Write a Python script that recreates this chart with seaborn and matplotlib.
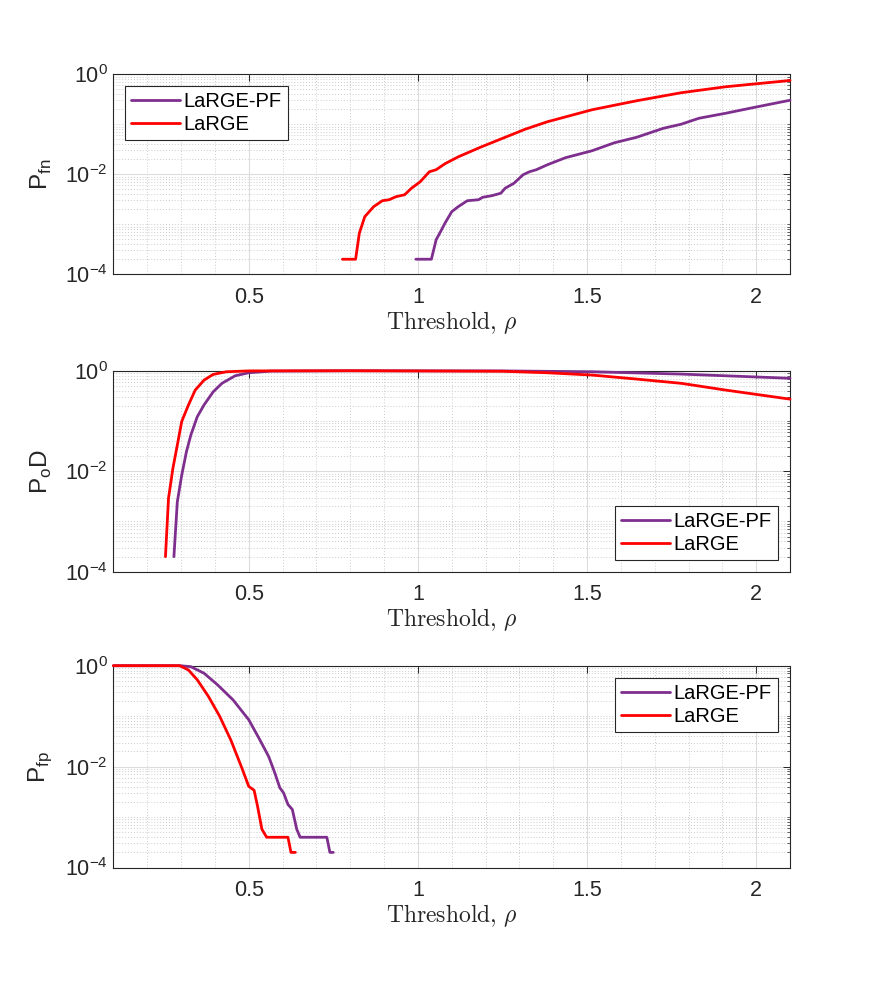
import numpy as np
import pandas as pd
import matplotlib
matplotlib.use("Agg")
import matplotlib.pyplot as plt
import seaborn as sns
from matplotlib.ticker import FixedLocator, NullFormatter, MultipleLocator

# ---------------- data ----------------
fn_large_x = [0.777, 0.816, 0.827, 0.843, 0.869, 0.895, 0.915, 0.935, 0.961, 0.981, 1.007,
              1.034, 1.054, 1.080, 1.12, 1.185, 1.251, 1.317, 1.383, 1.515, 1.647, 1.778,
              1.910, 2.1]
fn_large_log = [-3.7, -3.7, -3.18, -2.85, -2.65, -2.53, -2.51, -2.45, -2.41, -2.28, -2.15,
                -1.95, -1.91, -1.79, -1.65, -1.46, -1.28, -1.10, -0.95, -0.71, -0.53, -0.37,
                -0.25, -0.125]
fn_pf_x = [0.994, 1.040, 1.054, 1.067, 1.080, 1.100, 1.119, 1.146, 1.179, 1.192, 1.218,
           1.245, 1.258, 1.284, 1.311, 1.330, 1.350, 1.383, 1.436, 1.515, 1.581, 1.647,
           1.726, 1.778, 1.831, 1.910, 1.989, 2.1]
fn_pf_log = [-3.7, -3.7, -3.31, -3.15, -2.98, -2.75, -2.65, -2.53, -2.51, -2.46, -2.43,
             -2.38, -2.28, -2.18, -2.01, -1.95, -1.91, -1.81, -1.67, -1.53, -1.37, -1.26,
             -1.08, -1.00, -0.88, -0.78, -0.67, -0.52]

pod_large_x = [0.254, 0.263, 0.276, 0.289, 0.302, 0.322, 0.342, 0.368, 0.395, 0.434, 0.5,
               0.8, 1.25, 1.383, 1.515, 1.647, 1.778, 1.910, 2.1]
pod_large_log = [-3.7, -2.54, -1.94, -1.48, -1.01, -0.68, -0.385, -0.186, -0.073, -0.02, -0.003,
                 0.0, -0.01, -0.04, -0.086, -0.166, -0.25, -0.385, -0.565]
pod_pf_x = [0.279, 0.289, 0.302, 0.316, 0.329, 0.348, 0.368, 0.395, 0.421, 0.460, 0.5,
            0.566, 0.8, 1.25, 1.515, 1.778, 2.1]
pod_pf_log = [-3.7, -2.61, -2.08, -1.61, -1.28, -0.915, -0.68, -0.42, -0.25, -0.10, -0.04,
              -0.007, 0.0, -0.003, -0.02, -0.066, -0.15]

fp_large_x = [0.1, 0.296, 0.322, 0.348, 0.381, 0.414, 0.447, 0.480, 0.5, 0.516, 0.526,
              0.539, 0.553, 0.616, 0.625, 0.638]
fp_large_log = [0.0, 0.0, -0.086, -0.28, -0.61, -1.0, -1.47, -2.03, -2.39, -2.47, -2.78,
                -3.24, -3.4, -3.4, -3.7, -3.7]
fp_pf_x = [0.1, 0.296, 0.329, 0.368, 0.408, 0.454, 0.5, 0.533, 0.559, 0.572, 0.579, 0.592,
           0.603, 0.616, 0.629, 0.642, 0.652, 0.731, 0.740, 0.750]
fp_pf_log = [0.0, 0.0, -0.02, -0.15, -0.38, -0.68, -1.07, -1.47, -1.80, -2.03, -2.16, -2.42,
             -2.52, -2.75, -2.85, -3.24, -3.4, -3.4, -3.7, -3.7]

series_names = ["LaRGE-PF", "LaRGE"]
ylabels = ["P$_{\\mathregular{fn}}$", "P$_{\\mathregular{o}}$D", "P$_{\\mathregular{fp}}$"]
xlabel = r"$\mathrm{Threshold,}\,\rho$"
xticks = [0.5, 1, 1.5, 2]
xticklabels = ["0.5", "1", "1.5", "2"]
yticks = [1e-4, 1e-2, 1e0]
yticklabels = ["10$^{\\mathregular{-4}}$", "10$^{\\mathregular{-2}}$", "10$^{\\mathregular{0}}$"]

panels = [
    (fn_pf_x, fn_pf_log, fn_large_x, fn_large_log, "upper left"),
    (pod_pf_x, pod_pf_log, pod_large_x, pod_large_log, "lower right"),
    (fp_pf_x, fp_pf_log, fp_large_x, fp_large_log, "upper right"),
]

# ---------------- style ----------------
sns.set_theme(style="white")
plt.rcParams["font.family"] = ["Liberation Sans", "DejaVu Sans"]
plt.rcParams["mathtext.fontset"] = "dejavusans"

colors = {"LaRGE-PF": "#7E2F8E", "LaRGE": "#FF0000"}
edge = "#262626"

fig = plt.figure(figsize=(8.72, 9.9), dpi=100)
positions = [
    (0.130, 0.7230, 0.776, 0.2020),
    (0.130, 0.4225, 0.776, 0.2030),
    (0.130, 0.1237, 0.776, 0.2039),
]

for i, (pos, (px, plog, lx, llog, legloc)) in enumerate(zip(positions, panels)):
    ax = fig.add_axes(pos)
    df = pd.concat([
        pd.DataFrame({"x": px, "y": 10 ** np.array(plog), "s": series_names[0]}),
        pd.DataFrame({"x": lx, "y": 10 ** np.array(llog), "s": series_names[1]}),
    ])
    sns.lineplot(data=df, x="x", y="y", hue="s", palette=colors, sort=False,
                 estimator=None, linewidth=2.0, ax=ax, hue_order=series_names)
    for ln in ax.get_lines():
        ln.set_clip_on(False)
        ln.set_zorder(3)
    ax.set_yscale("log")
    ax.set_xlim(0.1, 2.1)
    ax.set_ylim(1e-4, 1)

    ax.xaxis.set_major_locator(FixedLocator(xticks))
    ax.set_xticklabels(xticklabels)
    ax.xaxis.set_minor_locator(MultipleLocator(0.1))
    ax.yaxis.set_major_locator(FixedLocator(yticks))
    ax.set_yticklabels(yticklabels)
    minors = [k * 10.0 ** e for e in range(-4, 0) for k in range(1, 10)
              if not (k == 1 and e in (-4, -2))]
    ax.yaxis.set_minor_locator(FixedLocator(minors))
    ax.yaxis.set_minor_formatter(NullFormatter())

    ax.grid(True, which="major", color="#dcdcdc", linewidth=0.8, linestyle="-")
    ax.grid(True, which="minor", color="#cccccc", linewidth=0.7, linestyle=(0, (1, 2)))
    ax.set_axisbelow(True)

    ax.tick_params(which="both", direction="in", top=True, right=True, colors=edge,
                   labelsize=15.5, labelcolor=edge)
    ax.tick_params(which="major", length=5, width=0.7)
    ax.tick_params(which="minor", length=2.5, width=0.5)
    ax.tick_params(axis="x", which="major", pad=9)
    ax.tick_params(axis="y", which="major", pad=4)
    ax.tick_params(axis="x", which="minor", length=0)
    for sp in ax.spines.values():
        sp.set_color(edge)
        sp.set_linewidth(0.8)
        sp.set_zorder(2.5)

    ax.set_xlabel(xlabel, fontsize=17, color=edge, math_fontfamily="cm", labelpad=1)
    ax.set_ylabel(ylabels[i], fontsize=17.5, color=edge, labelpad=8)

    leg = ax.legend(loc=legloc, fontsize=14.5, frameon=True, fancybox=False,
                    framealpha=1, edgecolor=edge, handlelength=2.4,
                    borderaxespad=0.6, borderpad=0.3, labelspacing=0.2,
                    handletextpad=0.2)
    leg.get_frame().set_linewidth(0.8)
    leg.set_zorder(5)
    for t in leg.get_texts():
        t.set_color("black")

fig.savefig("out.png", dpi=100)
